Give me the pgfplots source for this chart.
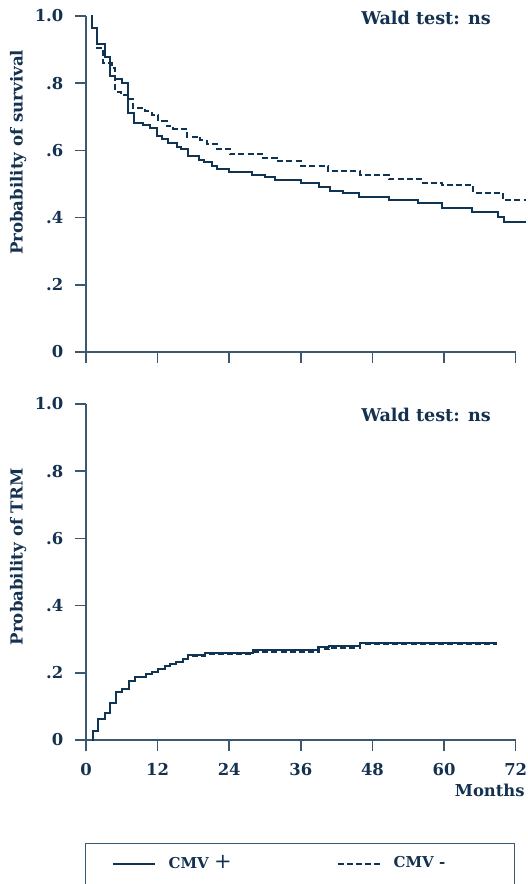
\documentclass[border=0pt]{standalone}
\usepackage{pgfplots}
\pgfplotsset{compat=1.18}
\usepackage{fontspec}
\setmainfont{DejaVu Serif}
\definecolor{navy}{RGB}{15,52,84}
\definecolor{axiscol}{RGB}{60,88,112}
\definecolor{textcol}{RGB}{20,50,80}

\pgfplotstableread{
t s
0.9 1.0
0.95 0.963
1.9 0.916
3.2 0.877
4.0 0.821
4.86 0.8125
6.0 0.80
7.0 0.712
8.0 0.681
9.6 0.676
10.8 0.666
11.85 0.643
12.7 0.633
13.8 0.623
15.2 0.611
16.0 0.603
17.05 0.584
18.9 0.571
19.8 0.565
21.06 0.555
21.9 0.545
23.9 0.535
27.8 0.528
30.0 0.520
31.7 0.512
36.0 0.504
39.1 0.490
40.9 0.479
43.0 0.474
45.7 0.460
50.8 0.452
55.6 0.4425
59.6 0.4295
64.6 0.4167
69.1 0.402
70.0 0.388
73.8 0.388
}\survpos

\pgfplotstableread{
t s
0.9 1.0
0.95 0.963
1.9 0.904
2.9 0.859
4.3 0.844
4.86 0.775
5.8 0.765
7.0 0.753
7.9 0.725
9.9 0.717
11.0 0.705
12.1 0.6875
13.5 0.6726
14.6 0.6637
17.0 0.641
19.1 0.631
20.2 0.619
21.9 0.603
24.1 0.589
29.7 0.576
31.95 0.5675
36.1 0.5536
40.6 0.5387
45.9 0.527
50.7 0.515
56.2 0.504
59.6 0.497
64.9 0.474
69.9 0.452
73.8 0.452
}\survneg

\pgfplotstableread{
t p
1.05 0
1.1 0.0278
2.06 0.0615
3.2 0.081
4.0 0.109
5.1 0.142
6.1 0.151
7.26 0.177
8.2 0.188
10.0 0.196
11.0 0.203
12.1 0.210
13.2 0.219
14.1 0.226
15.1 0.233
16.2 0.240
17.1 0.253
19.9 0.260
28.0 0.268
38.95 0.276
40.8 0.281
45.9 0.288
68.8 0.288
}\trmpos

\pgfplotstableread{
t p
1.05 0
1.1 0.0278
2.06 0.0615
3.2 0.081
4.0 0.109
5.1 0.142
6.1 0.151
7.26 0.177
8.2 0.188
10.0 0.196
11.0 0.203
12.1 0.210
13.2 0.219
14.1 0.226
15.1 0.233
16.2 0.240
17.1 0.250
19.9 0.256
28.0 0.261
39.1 0.270
40.8 0.275
45.9 0.285
68.8 0.285
}\trmneg

\pgfplotsset{
  kmcommon/.style={
    scale only axis,
    width=214.85pt, height=168pt,
    xmin=0, xmax=72, ymin=0, ymax=1,
    axis lines*=left,
    axis line style={axiscol, line width=0.75pt},
    every tick/.style={axiscol, line width=0.75pt},
    tick align=outside,
    major tick length=5.5pt,
    xtick={0,12,24,36,48,60,72},
    ytick={0,0.2,0.4,0.6,0.8,1},
    yticklabels={0,.2,.4,.6,.8,1.0},
    ticklabel style={font=\bfseries\fontsize{8.2}{9}\selectfont, text=textcol},
    yticklabel style={xshift=-2.3pt},
    xticklabel style={yshift=-2.5pt},
    ylabel style={font=\bfseries\fontsize{8.3}{10}\selectfont, text=textcol, anchor=center},
    clip=false,
  },
  solidkm/.style={navy, line width=1pt, const plot},
  dashkm/.style={navy, line width=1pt, const plot, dash pattern=on 3pt off 1.6pt},
}

\begin{document}
\begin{tikzpicture}[x=1pt,y=1pt]
\useasboundingbox (0,0) rectangle (263.5,442);

\begin{axis}[kmcommon, at={(43pt,266pt)}, anchor=south west,
  xticklabels={},
  ylabel={Probability of survival},
  ylabel style={at={(axis description cs:-0.158,0.594)}},
]
\addplot[dashkm] table[x=t,y=s] {\survneg};
\addplot[solidkm] table[x=t,y=s] {\survpos};
\end{axis}

\begin{axis}[kmcommon, at={(43pt,72pt)}, anchor=south west,
  xticklabels={0,12,24,36,48,60,72},
  ylabel={Probability of TRM},
  ylabel style={at={(axis description cs:-0.158,0.545)}},
  legend columns=2,
  legend cell align=left,
  legend image code/.code={\draw[#1] (0pt,0pt) -- (21pt,0pt);},
  legend style={at={(axis description cs:-0.0023,-0.3065)}, anchor=north west,
    draw=axiscol, line width=0.6pt, inner xsep=13pt, inner ysep=4pt,
    font=\bfseries\fontsize{7.5}{9}\selectfont, text=textcol,
    /tikz/every odd column/.append style={column sep=4.5pt},
    /tikz/every even column/.append style={column sep=50.5pt}},
]
\addplot[dashkm, forget plot] table[x=t,y=p] {\trmneg};
\addplot[solidkm, forget plot] table[x=t,y=p] {\trmpos};
\addlegendimage{solidkm}
\addlegendentry{CMV\ {\mdseries\fontsize{10.5}{9}\selectfont +}}
\addlegendimage{dashkm}
\addlegendentry{CMV -\hspace*{19.5pt}\mbox{}}
\addlegendimage{empty legend}
\addlegendentry{}
\end{axis}

\node[font=\bfseries\fontsize{8.8}{10}\selectfont, text=textcol, inner sep=0pt] at (213,433) {Wald test: ns};
\node[font=\bfseries\fontsize{8.8}{10}\selectfont, text=textcol, inner sep=0pt] at (213,234.5) {Wald test: ns};
\node[font=\bfseries\fontsize{8.2}{9}\selectfont, text=textcol, inner sep=0pt, anchor=east] at (262.5,47) {Months};
\end{tikzpicture}
\end{document}
